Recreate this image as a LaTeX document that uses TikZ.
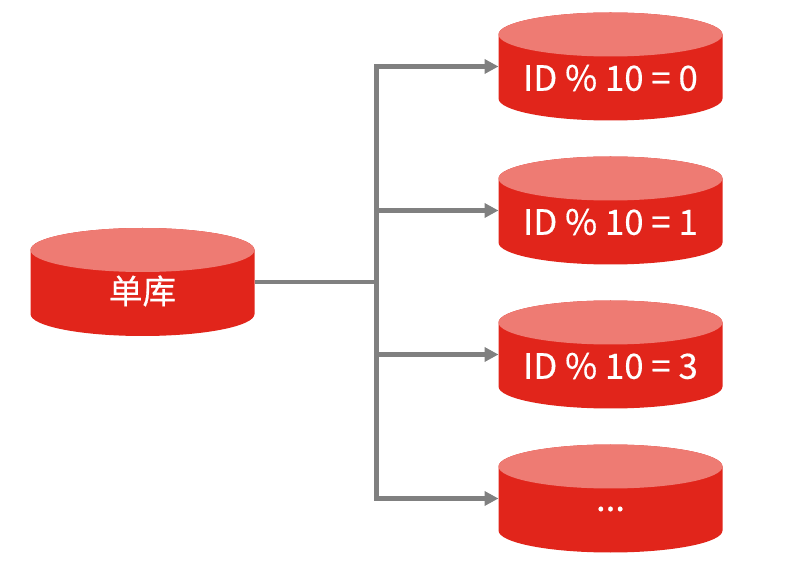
\documentclass[tikz,border=0pt]{standalone}
\usepackage{fontspec}
\setmainfont[FakeBold=0.35]{Noto Sans CJK SC}
\usetikzlibrary{arrows.meta}
\definecolor{dbred}{HTML}{E1251B}
\definecolor{dbtop}{HTML}{EE7B73}
\definecolor{wire}{HTML}{808080}
\tikzset{
  x=1pt,y=-1pt,
  dbshape/.style={minimum width=224pt,minimum height=108pt,inner sep=0pt,outer sep=0pt},
  dbtext/.style={text=white,font=\fontsize{34.8}{38}\selectfont,inner sep=0pt},
  wireline/.style={draw=wire,line width=4.4pt},
  wirearrow/.style={wireline,-{Triangle[length=14pt,width=14pt]}},
}
% #1 name, #2 x centre, #3 y centre
\newcommand{\dbdisk}[3]{%
  \node[dbshape] (#1) at (#2,#3) {};
  \fill[dbred] (#1.north west) ++(0,22) -- ++(0,64)
     arc[start angle=180,end angle=360,x radius=112pt,y radius=22pt]
     -- ++(0,-64) arc[start angle=0,end angle=180,x radius=112pt,y radius=22pt] -- cycle;
  \fill[dbtop] (#2,#3-32) ellipse[x radius=112pt,y radius=22pt];
}
\begin{document}
\begin{tikzpicture}
\useasboundingbox (0,0) rectangle (788,569);
\fill[white] (0,0) rectangle (788,569);
\dbdisk{src}{142.5}{282}
\dbdisk{a}{610.5}{66.5}
\dbdisk{b}{610.5}{210.5}
\dbdisk{c}{610.5}{354.5}
\dbdisk{d}{610.5}{498.5}
\node[dbtext,font=\fontsize{33.6}{38}\selectfont] (tsrc) at (142.5,291) {单库};
\node[dbtext] (ta) at (610.5,78) {ID \% 10 = 0};
\node[dbtext] (tb) at (610.5,222) {ID \% 10 = 1};
\node[dbtext] (tc) at (610.5,366) {ID \% 10 = 3};
\node[dbtext] (td) at (610.5,509) {...};
\coordinate (hub) at (376.5,282);
\coordinate (ja) at (376.5,66.5);
\coordinate (jb) at (376.5,210.5);
\coordinate (jc) at (376.5,354.5);
\coordinate (jd) at (376.5,498.5);
\draw[wireline] (src.east) -- (hub);
\draw[wireline] ([yshift=2.2pt]ja) -- ([yshift=-2.2pt]jd);
\draw[wirearrow] (ja) -- (a.west);
\draw[wirearrow] (jb) -- (b.west);
\draw[wirearrow] (jc) -- (c.west);
\draw[wirearrow] (jd) -- (d.west);
\end{tikzpicture}
\end{document}
